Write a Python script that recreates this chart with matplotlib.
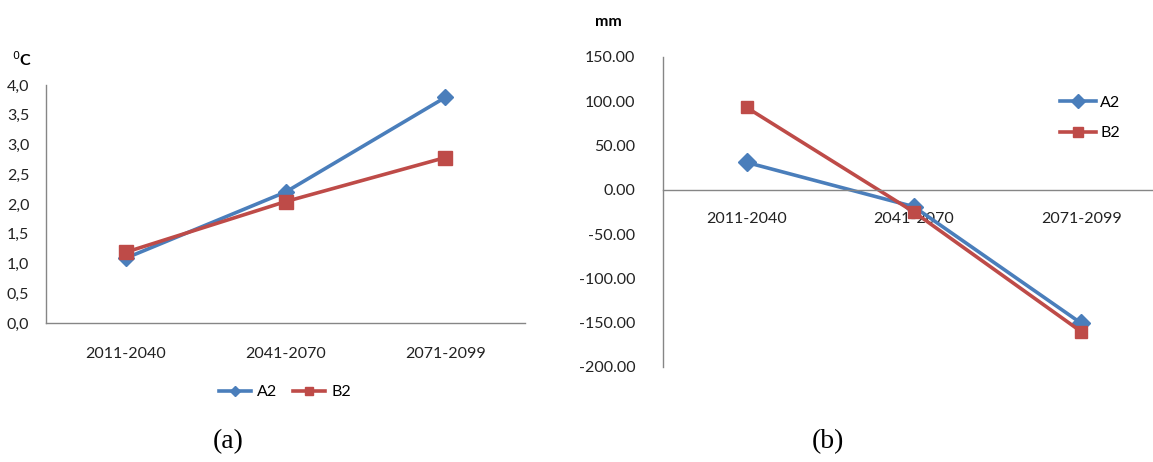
import numpy as np
import matplotlib.pyplot as plt

periods = ["2011-2040", "2041-2070", "2071-2099"]
temp_a2 = [1.09, 2.20, 3.79]
temp_b2 = [1.19, 2.04, 2.78]
prec_a2 = [31.0, -19.0, -150.5]
prec_b2 = [93.0, -25.0, -160.0]
temp_ticks = [0.0, 0.5, 1.0, 1.5, 2.0, 2.5, 3.0, 3.5, 4.0]
prec_ticks = [150, 100, 50, 0, -50, -100, -150, -200]

BLUE = "#4a7ebb"
RED = "#be4b48"
AXC = "#868686"
plt.rcParams['font.family'] = ['Lato', 'DejaVu Sans']

W, H = 1153, 462
fig = plt.figure(figsize=(W / 100, H / 100), dpi=100)


def px_axes(x0, x1, ytop, ybot):
    return fig.add_axes([x0 / W, (H - ybot) / H, (x1 - x0) / W, (ybot - ytop) / H])


def style(ax):
    for s in ["top", "right"]:
        ax.spines[s].set_visible(False)
    for s in ["left", "bottom"]:
        ax.spines[s].set_color(AXC)
        ax.spines[s].set_linewidth(1.0)
    ax.tick_params(length=0, labelsize=11.5, colors="#222222")


x = np.arange(len(periods))

# (a) temperature
ax1 = px_axes(46, 525, 85, 323)
style(ax1)
l1, = ax1.plot(x, temp_a2, color=BLUE, lw=2.6, marker="D", ms=8, label="A2")
l2, = ax1.plot(x, temp_b2, color=RED, lw=2.6, marker="s", ms=10, label="B2")
ax1.set_xlim(-0.5, 2.5)
ax1.set_ylim(0, 4)
ax1.set_yticks(temp_ticks)
ax1.set_yticklabels([f"{v:.1f}".replace(".", ",") for v in temp_ticks])
ax1.set_xticks(x)
ax1.set_xticklabels(periods)
ax1.tick_params(axis="y", pad=12)
ax1.tick_params(axis="x", pad=17)
fig.text(12 / W, 1 - 60 / H, r"$^{0}$C", fontsize=11.5, fontweight="bold", va="center")
fig.legend(handles=[l1, l2], loc="center", bbox_to_anchor=(285 / W, 1 - 392 / H),
           ncol=2, frameon=False, fontsize=11.5, handlelength=2.0, columnspacing=1.0,
           handletextpad=0.4, markerscale=0.6)
fig.text(228 / W, 1 - 442 / H, "(a)", fontsize=20, family="Liberation Serif",
         ha="center", va="center")

# (b) precipitation
ax2 = px_axes(663, 1153, 57, 367)
style(ax2)
m1, = ax2.plot(x, prec_a2, color=BLUE, lw=2.6, marker="D", ms=9, label="A2")
m2, = ax2.plot(x, prec_b2, color=RED, lw=2.6, marker="s", ms=8.5, label="B2")
ax2.set_xlim(-0.5, 2.43)
ax2.set_ylim(-200, 150)
ax2.spines["bottom"].set_position(("data", 0))
ax2.set_yticks(prec_ticks)
ax2.set_yticklabels([f"{v:.2f}" for v in prec_ticks])
ax2.set_xticks(x)
ax2.set_xticklabels(periods)
ax2.tick_params(axis="y", pad=20)
ax2.tick_params(axis="x", pad=16)
ax2.set_zorder(1)
fig.text(595 / W, 1 - 22 / H, "mm", fontsize=11.5, fontweight="bold", va="center")
fig.legend(handles=[m1, m2], loc="center left", bbox_to_anchor=(1046 / W, 1 - 118 / H),
           ncol=1, frameon=False, fontsize=11.5, handlelength=2.2, labelspacing=1.0,
           handletextpad=0.3, markerscale=0.8)
fig.text(828 / W, 1 - 442 / H, "(b)", fontsize=20, family="Liberation Serif",
         ha="center", va="center")

fig.savefig("out.png", dpi=100)
